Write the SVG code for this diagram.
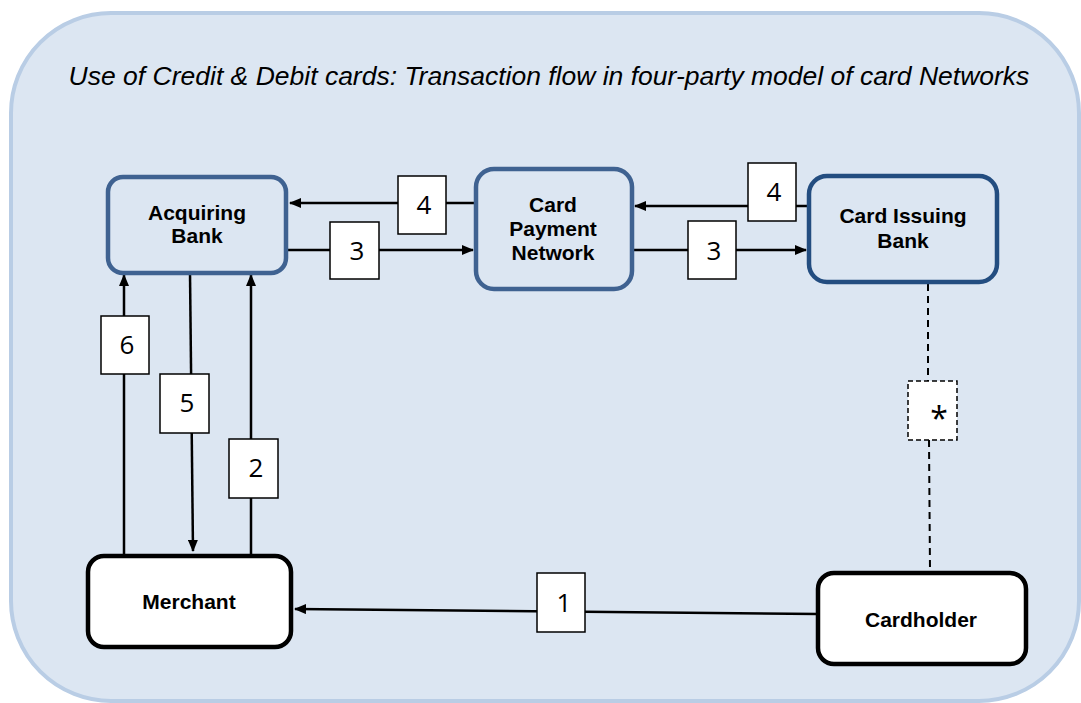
<svg xmlns="http://www.w3.org/2000/svg" width="1081" height="703" viewBox="0 0 1081 703">
<style>
.title{font-style:italic;font-size:26.5px;fill:#000}
.bank{fill:#dce6f2;stroke:#3f6291;stroke-width:4.5}
.party{fill:#fff;stroke:#000;stroke-width:4.5}
.nlabel{font-weight:bold;font-size:21px;fill:#000;text-anchor:middle}
.num{fill:#fff;stroke:#000;stroke-width:1.5}
.numt{font-size:26px;fill:#000;text-anchor:middle}
.conn{stroke:#000;stroke-width:2.5;fill:none}
.dash{stroke:#000;stroke-width:2;fill:none;stroke-dasharray:7,5}
</style>
<defs>
<marker id="ah" markerWidth="12" markerHeight="10" refX="11" refY="5" orient="auto" markerUnits="userSpaceOnUse">
<path d="M0,0 L12,5 L0,10 Z" fill="#000"/>
</marker>
</defs>
<rect x="11" y="13" width="1068" height="688" rx="100" ry="100" fill="#dce6f2" stroke="#b9cde5" stroke-width="4"/>
<text class="title" font-family="Liberation Sans, Arial, sans-serif" x="549" y="85" text-anchor="middle">Use of Credit &amp; Debit cards: Transaction flow in four-party model of card Networks</text>

<g id="connectors">
<line class="conn" x1="475" y1="203" x2="290" y2="203" marker-end="url(#ah)"/>
<line class="conn" x1="287" y1="250" x2="473" y2="250" marker-end="url(#ah)"/>
<line class="conn" x1="808" y1="206" x2="635" y2="206" marker-end="url(#ah)"/>
<line class="conn" x1="633" y1="250" x2="806" y2="250" marker-end="url(#ah)"/>
<line class="conn" x1="124" y1="555" x2="124" y2="275" marker-end="url(#ah)"/>
<line class="conn" x1="190" y1="273" x2="193" y2="551" marker-end="url(#ah)"/>
<line class="conn" x1="251" y1="555" x2="251" y2="275" marker-end="url(#ah)"/>
<line class="conn" x1="818" y1="614" x2="295" y2="609" marker-end="url(#ah)"/>
<line class="dash" x1="928" y1="284" x2="928" y2="381"/>
<line class="dash" x1="929" y1="440" x2="930" y2="570"/>
</g>

<g font-family="Open Sans, Liberation Sans, sans-serif">
<g id="label-4a"><rect class="num" x="398" y="176" width="48" height="58"/><text class="numt" x="424" y="214">4</text></g>
<g id="label-3a"><rect class="num" x="330" y="222" width="49" height="57"/><text class="numt" x="357" y="260">3</text></g>
<g id="label-4b"><rect class="num" x="748" y="163" width="48" height="58"/><text class="numt" x="774" y="201">4</text></g>
<g id="label-3b"><rect class="num" x="688" y="221" width="48" height="58"/><text class="numt" x="714" y="260">3</text></g>
<g id="label-6"><rect class="num" x="101" y="316" width="48" height="58"/><text class="numt" x="127" y="354">6</text></g>
<g id="label-5"><rect class="num" x="160" y="374" width="49" height="59"/><text class="numt" x="187" y="412">5</text></g>
<g id="label-2"><rect class="num" x="229" y="439" width="49" height="59"/><text class="numt" x="256" y="477">2</text></g>
<g id="label-1"><rect class="num" x="537" y="573" width="48" height="59"/><text class="numt" x="564" y="612">1</text></g>
<g id="label-star"><rect x="908" y="381" width="49" height="59" fill="#fff" stroke="#000" stroke-width="1.5" stroke-dasharray="5,3"/><text class="numt" x="939" y="430" style="font-size:32px">*</text></g>
</g>

<g font-family="Liberation Sans, Arial, sans-serif">
<g id="acquiring-bank">
<rect class="bank" x="108" y="177" width="178" height="96" rx="15"/>
<text class="nlabel" x="197" y="220">Acquiring</text>
<text class="nlabel" x="197" y="243">Bank</text>
</g>
<g id="card-payment-network">
<rect class="bank" x="476" y="169" width="156" height="120" rx="18"/>
<text class="nlabel" x="553" y="212">Card</text>
<text class="nlabel" x="553" y="236">Payment</text>
<text class="nlabel" x="553" y="260">Network</text>
</g>
<g id="card-issuing-bank">
<rect class="bank" x="809" y="176" width="188" height="106" rx="18" style="stroke:#234d80"/>
<text class="nlabel" x="903" y="223">Card Issuing</text>
<text class="nlabel" x="903" y="248">Bank</text>
</g>
<g id="merchant">
<rect class="party" x="88" y="556" width="203" height="91" rx="16"/>
<text class="nlabel" x="189" y="609">Merchant</text>
</g>
<g id="cardholder">
<rect class="party" x="818" y="573" width="208" height="91" rx="16"/>
<text class="nlabel" x="921" y="627">Cardholder</text>
</g>
</g>
</svg>
